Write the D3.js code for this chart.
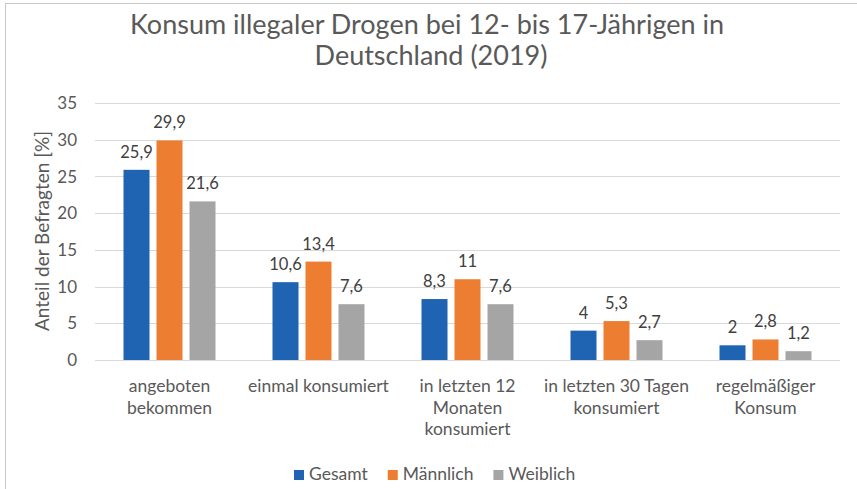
<!DOCTYPE html>
<html>
<head>
<meta charset="utf-8">
<script src="https://cdn.jsdelivr.net/npm/d3@7"></script>
<style>
  html, body { margin: 0; padding: 0; background: #fff; }
  svg { display: block; font-family: Lato, "Open Sans", sans-serif; }
</style>
</head>
<body>
<div id="chart"></div>
<script>
// data
const categories = ['angeboten bekommen', 'einmal konsumiert', 'in letzten 12 Monaten konsumiert',
    'in letzten 30 Tagen konsumiert', 'regelmäßiger Konsum'];
const categoryLines = [
    ['angeboten', 'bekommen'],
    ['einmal konsumiert'],
    ['in letzten 12', 'Monaten', 'konsumiert'],
    ['in letzten 30 Tagen', 'konsumiert'],
    ['regelmäßiger', 'Konsum']
];
const seriesNames = ['Gesamt', 'Männlich', 'Weiblich'];
const gesamt = [25.9, 10.6, 8.3, 4, 2];
const maennlich = [29.9, 13.4, 11, 5.3, 2.8];
const weiblich = [21.6, 7.6, 7.6, 2.7, 1.2];
const yTicks = [0, 5, 10, 15, 20, 25, 30, 35];

const colors = { 'Gesamt': '#1f64b2', 'Männlich': '#ed7d31', 'Weiblich': '#a5a5a5' };
const values = { 'Gesamt': gesamt, 'Männlich': maennlich, 'Weiblich': weiblich };

const W = 857, H = 489;
const plot = { left: 95, right: 840, top: 103, bottom: 360 };

const svg = d3.select('#chart').append('svg')
    .attr('width', W).attr('height', H);

// chart frame
svg.append('rect')
    .attr('x', 5.5).attr('y', 3.5)
    .attr('width', W + 10).attr('height', H + 10)
    .attr('fill', 'none').attr('stroke', '#c8c8c8').attr('stroke-width', 1);

// title
const title = svg.append('text')
    .attr('text-anchor', 'middle')
    .attr('font-size', '27px')
    .attr('fill', '#595959');
title.append('tspan').attr('x', 427).attr('y', 34).text('Konsum illegaler Drogen bei 12- bis 17-Jährigen in');
title.append('tspan').attr('x', 431).attr('y', 65).text('Deutschland (2019)');

// scales
const x0 = d3.scaleBand().domain(categories).range([plot.left, plot.right]).padding(0);
const x1 = d3.scaleBand().domain(seriesNames)
    .range([28.5, x0.bandwidth() - 28.5])
    .paddingInner(7 / 33).paddingOuter(0);
const y = d3.scaleLinear().domain([0, 35]).range([plot.bottom, plot.top]);

// grid
svg.append('g').selectAll('line')
    .data(yTicks)
    .join('line')
    .attr('x1', plot.left).attr('x2', plot.right)
    .attr('y1', d => Math.round(y(d)) + 0.5).attr('y2', d => Math.round(y(d)) + 0.5)
    .attr('stroke', '#d9d9d9').attr('stroke-width', 1);

// y tick labels
svg.append('g').selectAll('text')
    .data(yTicks)
    .join('text')
    .attr('x', 77)
    .attr('y', d => y(d))
    .attr('dy', '0.36em')
    .attr('text-anchor', 'end')
    .attr('font-size', '17px')
    .attr('fill', '#595959')
    .text(d => d);

// y axis title
svg.append('text')
    .attr('transform', 'translate(49,231) rotate(-90)')
    .attr('text-anchor', 'middle')
    .attr('font-size', '19px')
    .attr('fill', '#595959')
    .text('Anteil der Befragten [%]');

// bars
const groups = svg.append('g').selectAll('g')
    .data(categories)
    .join('g')
    .attr('transform', d => `translate(${x0(d)},0)`);

groups.selectAll('rect')
    .data((d, i) => seriesNames.map(s => ({ s, v: values[s][i] })))
    .join('rect')
    .attr('x', d => x1(d.s))
    .attr('width', x1.bandwidth())
    .attr('y', d => y(d.v))
    .attr('height', d => y(0) - y(d.v))
    .attr('fill', d => colors[d.s]);

// value labels
groups.selectAll('text.val')
    .data((d, i) => seriesNames.map(s => ({ s, v: values[s][i] })))
    .join('text')
    .attr('class', 'val')
    .attr('x', d => x1(d.s) + x1.bandwidth() / 2)
    .attr('y', d => y(d.v) - 12)
    .attr('text-anchor', 'middle')
    .attr('font-size', '16.5px')
    .attr('fill', '#404040')
    .text(d => String(d.v).replace('.', ','));

// category labels
groups.append('text')
    .attr('text-anchor', 'middle')
    .attr('font-size', '17.5px')
    .attr('fill', '#595959')
    .each(function (d, i) {
        const t = d3.select(this);
        categoryLines[i].forEach((line, k) => {
            t.append('tspan')
                .attr('x', x0.bandwidth() / 2)
                .attr('y', 392 + k * 21.5)
                .text(line);
        });
    });

// legend
const legend = svg.append('g');
let lx = 0;
seriesNames.forEach(s => {
    const item = legend.append('g').attr('transform', `translate(${lx},0)`);
    item.append('rect')
        .attr('x', 0).attr('y', 470)
        .attr('width', 10).attr('height', 10)
        .attr('fill', colors[s]);
    const t = item.append('text')
        .attr('x', 15).attr('y', 480)
        .attr('font-size', '17.5px')
        .attr('fill', '#595959')
        .text(s);
    lx += 15 + t.node().getComputedTextLength() + 20;
});
const legendWidth = lx - 20;
legend.attr('transform', `translate(${Math.round(435 - legendWidth / 2)},0)`);
</script>
</body>
</html>
